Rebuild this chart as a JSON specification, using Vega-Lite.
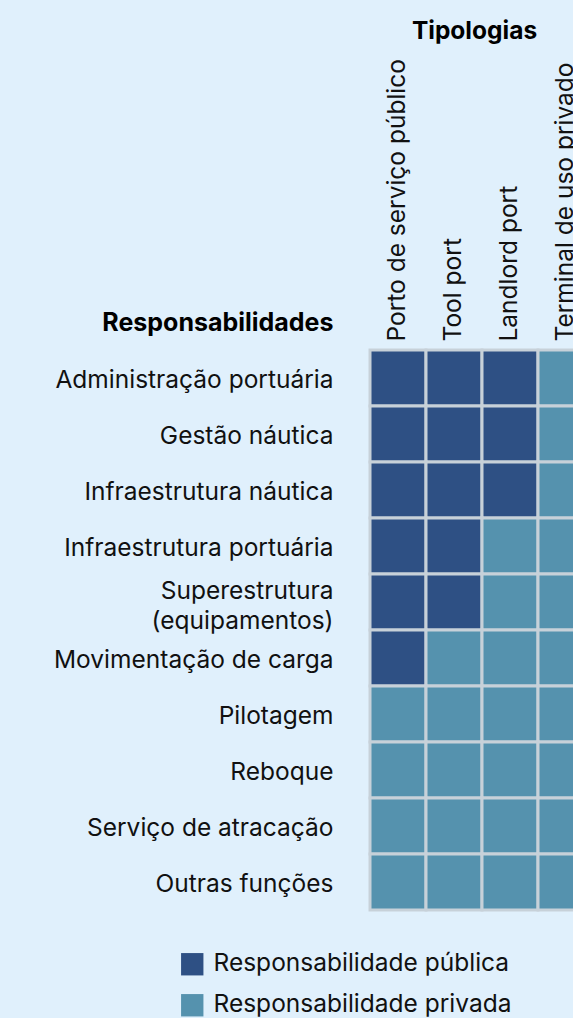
{
  "$schema": "https://vega.github.io/schema/vega-lite/v6.json",
  "autosize": {"type": "none"},
  "padding": {"left": 370, "top": 350, "right": 0, "bottom": 108},
  "width": 224,
  "height": 560,
  "background": "#e0f0fc",
  "config": {
    "view": {"stroke": null},
    "font": "Inter",
    "text": {"font": "Inter"}
  },
  "data": {
    "values": [
      {"resp": "Administração portuária", "tipo": "Porto de serviço público", "tipoResp": "Responsabilidade pública"},
      {"resp": "Administração portuária", "tipo": "Tool port", "tipoResp": "Responsabilidade pública"},
      {"resp": "Administração portuária", "tipo": "Landlord port", "tipoResp": "Responsabilidade pública"},
      {"resp": "Administração portuária", "tipo": "Terminal de uso privado", "tipoResp": "Responsabilidade privada"},
      {"resp": "Gestão náutica", "tipo": "Porto de serviço público", "tipoResp": "Responsabilidade pública"},
      {"resp": "Gestão náutica", "tipo": "Tool port", "tipoResp": "Responsabilidade pública"},
      {"resp": "Gestão náutica", "tipo": "Landlord port", "tipoResp": "Responsabilidade pública"},
      {"resp": "Gestão náutica", "tipo": "Terminal de uso privado", "tipoResp": "Responsabilidade privada"},
      {"resp": "Infraestrutura náutica", "tipo": "Porto de serviço público", "tipoResp": "Responsabilidade pública"},
      {"resp": "Infraestrutura náutica", "tipo": "Tool port", "tipoResp": "Responsabilidade pública"},
      {"resp": "Infraestrutura náutica", "tipo": "Landlord port", "tipoResp": "Responsabilidade pública"},
      {"resp": "Infraestrutura náutica", "tipo": "Terminal de uso privado", "tipoResp": "Responsabilidade privada"},
      {"resp": "Infraestrutura portuária", "tipo": "Porto de serviço público", "tipoResp": "Responsabilidade pública"},
      {"resp": "Infraestrutura portuária", "tipo": "Tool port", "tipoResp": "Responsabilidade pública"},
      {"resp": "Infraestrutura portuária", "tipo": "Landlord port", "tipoResp": "Responsabilidade privada"},
      {"resp": "Infraestrutura portuária", "tipo": "Terminal de uso privado", "tipoResp": "Responsabilidade privada"},
      {"resp": "Superestrutura (equipamentos)", "tipo": "Porto de serviço público", "tipoResp": "Responsabilidade pública"},
      {"resp": "Superestrutura (equipamentos)", "tipo": "Tool port", "tipoResp": "Responsabilidade pública"},
      {"resp": "Superestrutura (equipamentos)", "tipo": "Landlord port", "tipoResp": "Responsabilidade privada"},
      {"resp": "Superestrutura (equipamentos)", "tipo": "Terminal de uso privado", "tipoResp": "Responsabilidade privada"},
      {"resp": "Movimentação de carga", "tipo": "Porto de serviço público", "tipoResp": "Responsabilidade pública"},
      {"resp": "Movimentação de carga", "tipo": "Tool port", "tipoResp": "Responsabilidade privada"},
      {"resp": "Movimentação de carga", "tipo": "Landlord port", "tipoResp": "Responsabilidade privada"},
      {"resp": "Movimentação de carga", "tipo": "Terminal de uso privado", "tipoResp": "Responsabilidade privada"},
      {"resp": "Pilotagem", "tipo": "Porto de serviço público", "tipoResp": "Responsabilidade privada"},
      {"resp": "Pilotagem", "tipo": "Tool port", "tipoResp": "Responsabilidade privada"},
      {"resp": "Pilotagem", "tipo": "Landlord port", "tipoResp": "Responsabilidade privada"},
      {"resp": "Pilotagem", "tipo": "Terminal de uso privado", "tipoResp": "Responsabilidade privada"},
      {"resp": "Reboque", "tipo": "Porto de serviço público", "tipoResp": "Responsabilidade privada"},
      {"resp": "Reboque", "tipo": "Tool port", "tipoResp": "Responsabilidade privada"},
      {"resp": "Reboque", "tipo": "Landlord port", "tipoResp": "Responsabilidade privada"},
      {"resp": "Reboque", "tipo": "Terminal de uso privado", "tipoResp": "Responsabilidade privada"},
      {"resp": "Serviço de atracação", "tipo": "Porto de serviço público", "tipoResp": "Responsabilidade privada"},
      {"resp": "Serviço de atracação", "tipo": "Tool port", "tipoResp": "Responsabilidade privada"},
      {"resp": "Serviço de atracação", "tipo": "Landlord port", "tipoResp": "Responsabilidade privada"},
      {"resp": "Serviço de atracação", "tipo": "Terminal de uso privado", "tipoResp": "Responsabilidade privada"},
      {"resp": "Outras funções", "tipo": "Porto de serviço público", "tipoResp": "Responsabilidade privada"},
      {"resp": "Outras funções", "tipo": "Tool port", "tipoResp": "Responsabilidade privada"},
      {"resp": "Outras funções", "tipo": "Landlord port", "tipoResp": "Responsabilidade privada"},
      {"resp": "Outras funções", "tipo": "Terminal de uso privado", "tipoResp": "Responsabilidade privada"}
    ]
  },
  "mark": {"type": "rect", "stroke": "#c7d1d9", "strokeWidth": 3},
  "encoding": {
    "x": {
      "field": "tipo",
      "type": "nominal",
      "sort": ["Porto de serviço público", "Tool port", "Landlord port", "Terminal de uso privado"],
      "scale": {"paddingInner": 0, "paddingOuter": 0},
      "axis": {
        "orient": "top",
        "title": "Tipologias",
        "titleFont": "Inter",
        "titleFontSize": 24.5,
        "titleFontWeight": "bold",
        "titleColor": "#000000",
        "titleAnchor": "middle",
        "titleAlign": "center",
        "titleBaseline": "alphabetic",
        "titleX": 104,
        "titleY": -312,
        "labelAngle": 270,
        "labelAlign": "left",
        "labelBaseline": "middle",
        "labelFont": "Inter",
        "labelFontSize": 24.5,
        "labelColor": "#111111",
        "labelPadding": 9,
        "labelLimit": 0,
        "ticks": false,
        "tickSize": 0,
        "domain": false,
        "grid": false
      }
    },
    "y": {
      "field": "resp",
      "type": "nominal",
      "sort": ["Administração portuária", "Gestão náutica", "Infraestrutura náutica", "Infraestrutura portuária", "Superestrutura (equipamentos)", "Movimentação de carga", "Pilotagem", "Reboque", "Serviço de atracação", "Outras funções"],
      "scale": {"paddingInner": 0, "paddingOuter": 0},
      "axis": {
        "title": "Responsabilidades",
        "titleFont": "Inter",
        "titleFontSize": 25,
        "titleFontWeight": "bold",
        "titleColor": "#000000",
        "titleAngle": 0,
        "titleAlign": "right",
        "titleBaseline": "alphabetic",
        "titleX": -37,
        "titleY": -20,
        "labelFont": "Inter",
        "labelFontSize": 24.5,
        "labelColor": "#111111",
        "labelPadding": 37,
        "labelLimit": 0,
        "labelLineHeight": 30,
        "labelOffset": {"condition": {"test": "datum.value == 'Superestrutura (equipamentos)'", "value": -10}, "value": 3},
        "labelExpr": "datum.value == 'Superestrutura (equipamentos)' ? ['Superestrutura', '(equipamentos)'] : datum.value",
        "ticks": false,
        "tickSize": 0,
        "domain": false,
        "grid": false
      }
    },
    "color": {
      "field": "tipoResp",
      "type": "nominal",
      "scale": {
        "domain": ["Responsabilidade pública", "Responsabilidade privada"],
        "range": ["#2e5084", "#5592ae"]
      },
      "legend": {
        "title": null,
        "orient": "none",
        "legendX": -190,
        "legendY": 602,
        "symbolType": "square",
        "symbolSize": 500,
        "symbolStrokeWidth": 0,
        "labelFont": "Inter",
        "labelFontSize": 24.5,
        "labelColor": "#111111",
        "labelOffset": 9,
        "labelLimit": 0,
        "rowPadding": 16
      }
    }
  }
}
